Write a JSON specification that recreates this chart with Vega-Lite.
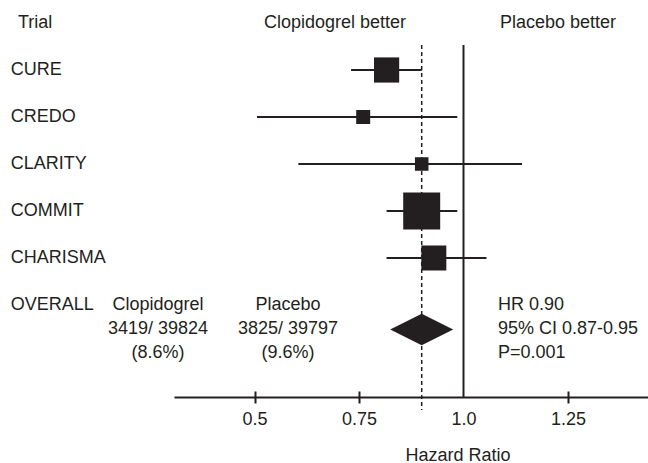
{
  "$schema": "https://vega.github.io/schema/vega-lite/v6.json",
  "width": 474,
  "height": 397,
  "autosize": {"type": "none"},
  "padding": {"left": 174, "top": 0, "right": 0, "bottom": 66},
  "background": "white",
  "config": {
    "view": {"stroke": null},
    "font": "Liberation Sans",
    "text": {"font": "Liberation Sans", "fontSize": 18, "color": "#231f20"}
  },
  "datasets": {
    "trials": [
      {"trial": "CURE", "hr": 0.816, "lo": 0.731, "hi": 0.900, "weight": 21.1},
      {"trial": "CREDO", "hr": 0.760, "lo": 0.506, "hi": 0.985, "weight": 6.5},
      {"trial": "CLARITY", "hr": 0.900, "lo": 0.605, "hi": 1.140, "weight": 6.1},
      {"trial": "COMMIT", "hr": 0.900, "lo": 0.816, "hi": 0.985, "weight": 45.5},
      {"trial": "CHARISMA", "hr": 0.929, "lo": 0.816, "hi": 1.055, "weight": 20.8}
    ],
    "overall": [
      {"trial": "OVERALL", "hr": 0.90, "lo": 0.87, "hi": 0.95,
       "clopidogrel": "Clopidogrel\n3419/ 39824\n(8.6%)",
       "placebo": "Placebo\n3825/ 39797\n(9.6%)",
       "summary": "HR 0.90\n95% CI 0.87-0.95\nP=0.001"}
    ]
  },
  "resolve": {"axis": {"x": "independent"}},
  "layer": [
    {
      "data": {"name": "trials"},
      "mark": {"type": "rule", "strokeWidth": 2, "color": "#231f20"},
      "encoding": {
        "x": {"field": "lo", "type": "quantitative",
              "scale": {"domain": [0.3074, 1.4414], "nice": false, "zero": false},
              "axis": {"orient": "bottom", "values": [0.5, 0.75, 1, 1.25],
                       "labelExpr": "datum.value == 1 ? '1.0' : format(datum.value, '~g')",
                       "domain": true, "domainColor": "#231f20", "domainWidth": 2,
                       "ticks": true, "tickSize": 6, "tickWidth": 2, "tickColor": "#231f20",
                       "tickOpacity": {"condition": {"test": "datum.value == 1", "value": 0}, "value": 1},
                       "labelFont": "Liberation Sans", "labelFontSize": 18, "labelColor": "#231f20",
                       "labelPadding": 7, "labelFlush": false, "labelOverlap": false, "grid": false,
                       "title": "Hazard Ratio", "titleFont": "Liberation Sans", "titleFontSize": 18,
                       "titleFontWeight": "normal", "titleColor": "#231f20", "titlePadding": 18,
                       "titleX": 283.5}},
        "x2": {"field": "hi"},
        "y": {"field": "trial", "type": "nominal",
              "scale": {"type": "point", "domain": ["header", "CURE", "CREDO", "CLARITY", "COMMIT", "CHARISMA", "OVERALL"], "range": [23, 305], "padding": 0},
              "axis": null}
      }
    },
    {
      "data": {"name": "trials"},
      "mark": {"type": "square", "filled": true, "opacity": 1, "color": "#231f20"},
      "encoding": {
        "x": {"field": "hr", "type": "quantitative",
              "scale": {"domain": [0.3074, 1.4414], "nice": false, "zero": false},
              "axis": {"orient": "bottom", "offset": -6, "values": [0.5, 0.75, 1.25],
                       "domain": false, "labels": false, "ticks": true, "tickSize": 6,
                       "tickWidth": 2, "tickColor": "#231f20", "grid": false, "title": null}},
        "y": {"field": "trial", "type": "nominal",
              "scale": {"type": "point", "domain": ["header", "CURE", "CREDO", "CLARITY", "COMMIT", "CHARISMA", "OVERALL"], "range": [23, 305], "padding": 0},
              "axis": null},
        "size": {"field": "weight", "type": "quantitative",
                 "scale": {"type": "linear", "zero": true, "domain": [0, 100], "range": [0, 3007]},
                 "legend": null}
      }
    },
    {
      "data": {"name": "overall"},
      "mark": {"type": "rule", "strokeWidth": 2, "color": "#231f20", "yOffset": 22},
      "encoding": {
        "x": {"datum": 1, "type": "quantitative",
              "scale": {"domain": [0.3074, 1.4414], "nice": false, "zero": false}, "axis": null},
        "y": {"datum": "header", "type": "nominal",
              "scale": {"type": "point", "domain": ["header", "CURE", "CREDO", "CLARITY", "COMMIT", "CHARISMA", "OVERALL"], "range": [23, 305], "padding": 0},
              "axis": null},
        "y2": {"value": "height"}
      }
    },
    {
      "data": {"name": "overall"},
      "mark": {"type": "rule", "strokeWidth": 1.5, "strokeDash": [4, 3], "color": "#231f20", "yOffset": 22, "y2Offset": 13},
      "encoding": {
        "x": {"field": "hr", "type": "quantitative",
              "scale": {"domain": [0.3074, 1.4414], "nice": false, "zero": false}, "axis": null},
        "y": {"datum": "header", "type": "nominal",
              "scale": {"type": "point", "domain": ["header", "CURE", "CREDO", "CLARITY", "COMMIT", "CHARISMA", "OVERALL"], "range": [23, 305], "padding": 0},
              "axis": null},
        "y2": {"value": "height"}
      }
    },
    {
      "data": {"name": "overall"},
      "mark": {"type": "point", "shape": "M-1,0L0,-0.5L1,0L0,0.5Z", "size": 3969, "filled": true, "opacity": 1, "color": "#231f20", "yOffset": 24.5},
      "encoding": {
        "x": {"field": "hr", "type": "quantitative",
              "scale": {"domain": [0.3074, 1.4414], "nice": false, "zero": false}, "axis": null},
        "y": {"field": "trial", "type": "nominal",
              "scale": {"type": "point", "domain": ["header", "CURE", "CREDO", "CLARITY", "COMMIT", "CHARISMA", "OVERALL"], "range": [23, 305], "padding": 0},
              "axis": null}
      }
    },
    {
      "data": {"name": "trials"},
      "mark": {"type": "text", "align": "left", "baseline": "middle"},
      "encoding": {
        "x": {"datum": -0.083, "type": "quantitative",
              "scale": {"domain": [0.3074, 1.4414], "nice": false, "zero": false}, "axis": null},
        "y": {"field": "trial", "type": "nominal",
              "scale": {"type": "point", "domain": ["header", "CURE", "CREDO", "CLARITY", "COMMIT", "CHARISMA", "OVERALL"], "range": [23, 305], "padding": 0},
              "axis": null},
        "text": {"field": "trial"}
      }
    },
    {
      "data": {"name": "overall"},
      "mark": {"type": "text", "align": "left", "baseline": "middle"},
      "encoding": {
        "x": {"datum": -0.083, "type": "quantitative",
              "scale": {"domain": [0.3074, 1.4414], "nice": false, "zero": false}, "axis": null},
        "y": {"field": "trial", "type": "nominal",
              "scale": {"type": "point", "domain": ["header", "CURE", "CREDO", "CLARITY", "COMMIT", "CHARISMA", "OVERALL"], "range": [23, 305], "padding": 0},
              "axis": null},
        "text": {"field": "trial"}
      }
    },
    {
      "data": {"name": "overall"},
      "mark": {"type": "text", "align": "center", "baseline": "middle", "lineBreak": "\n", "lineHeight": 24},
      "encoding": {
        "x": {"datum": 0.2691, "type": "quantitative",
              "scale": {"domain": [0.3074, 1.4414], "nice": false, "zero": false}, "axis": null},
        "y": {"field": "trial", "type": "nominal",
              "scale": {"type": "point", "domain": ["header", "CURE", "CREDO", "CLARITY", "COMMIT", "CHARISMA", "OVERALL"], "range": [23, 305], "padding": 0},
              "axis": null},
        "text": {"field": "clopidogrel"}
      }
    },
    {
      "data": {"name": "overall"},
      "mark": {"type": "text", "align": "center", "baseline": "middle", "lineBreak": "\n", "lineHeight": 24},
      "encoding": {
        "x": {"datum": 0.5801, "type": "quantitative",
              "scale": {"domain": [0.3074, 1.4414], "nice": false, "zero": false}, "axis": null},
        "y": {"field": "trial", "type": "nominal",
              "scale": {"type": "point", "domain": ["header", "CURE", "CREDO", "CLARITY", "COMMIT", "CHARISMA", "OVERALL"], "range": [23, 305], "padding": 0},
              "axis": null},
        "text": {"field": "placebo"}
      }
    },
    {
      "data": {"name": "overall"},
      "mark": {"type": "text", "align": "left", "baseline": "middle", "lineBreak": "\n", "lineHeight": 24},
      "encoding": {
        "x": {"datum": 1.0825, "type": "quantitative",
              "scale": {"domain": [0.3074, 1.4414], "nice": false, "zero": false}, "axis": null},
        "y": {"field": "trial", "type": "nominal",
              "scale": {"type": "point", "domain": ["header", "CURE", "CREDO", "CLARITY", "COMMIT", "CHARISMA", "OVERALL"], "range": [23, 305], "padding": 0},
              "axis": null},
        "text": {"field": "summary"}
      }
    },
    {
      "data": {"values": [{"label": "Trial"}]},
      "mark": {"type": "text", "align": "left", "baseline": "middle"},
      "encoding": {
        "x": {"datum": -0.066, "type": "quantitative",
              "scale": {"domain": [0.3074, 1.4414], "nice": false, "zero": false}, "axis": null},
        "y": {"datum": "header", "type": "nominal",
              "scale": {"type": "point", "domain": ["header", "CURE", "CREDO", "CLARITY", "COMMIT", "CHARISMA", "OVERALL"], "range": [23, 305], "padding": 0},
              "axis": null},
        "text": {"field": "label"}
      }
    },
    {
      "data": {"values": [{"label": "Clopidogrel better"}]},
      "mark": {"type": "text", "align": "center", "baseline": "middle"},
      "encoding": {
        "x": {"datum": 0.6926, "type": "quantitative",
              "scale": {"domain": [0.3074, 1.4414], "nice": false, "zero": false}, "axis": null},
        "y": {"datum": "header", "type": "nominal",
              "scale": {"type": "point", "domain": ["header", "CURE", "CREDO", "CLARITY", "COMMIT", "CHARISMA", "OVERALL"], "range": [23, 305], "padding": 0},
              "axis": null},
        "text": {"field": "label"}
      }
    },
    {
      "data": {"values": [{"label": "Placebo better"}]},
      "mark": {"type": "text", "align": "center", "baseline": "middle"},
      "encoding": {
        "x": {"datum": 1.2262, "type": "quantitative",
              "scale": {"domain": [0.3074, 1.4414], "nice": false, "zero": false}, "axis": null},
        "y": {"datum": "header", "type": "nominal",
              "scale": {"type": "point", "domain": ["header", "CURE", "CREDO", "CLARITY", "COMMIT", "CHARISMA", "OVERALL"], "range": [23, 305], "padding": 0},
              "axis": null},
        "text": {"field": "label"}
      }
    }
  ]
}
